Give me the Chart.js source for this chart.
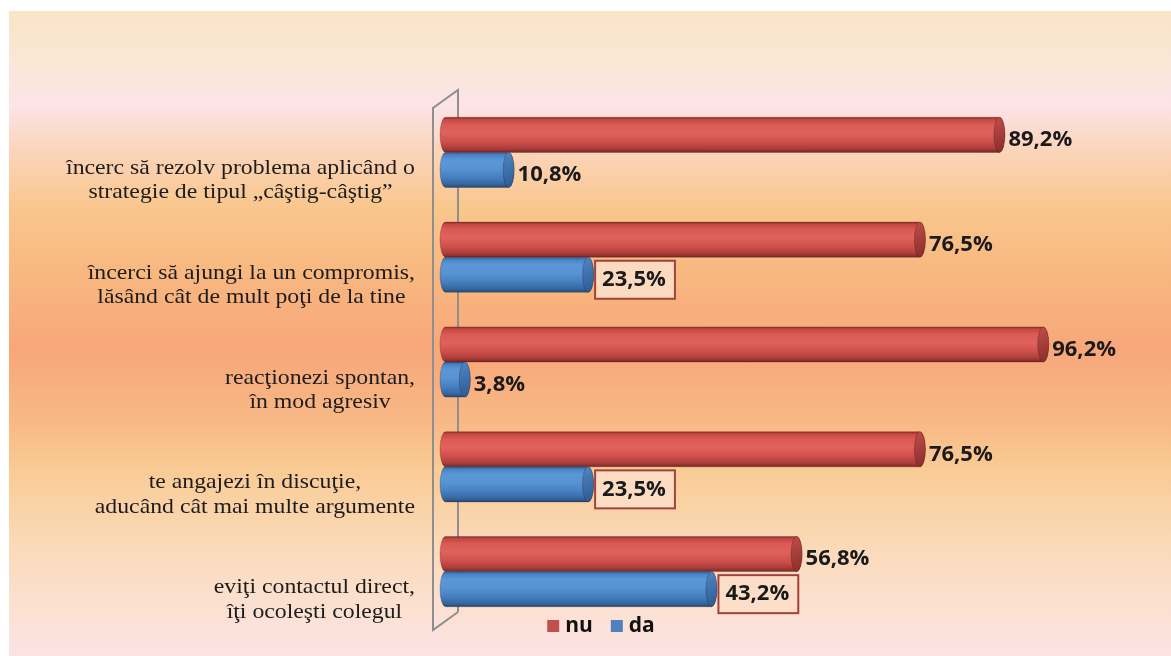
<!DOCTYPE html>
<html>
<head>
<meta charset="utf-8">
<script src="https://cdn.jsdelivr.net/npm/chart.js@4.4.1/dist/chart.umd.min.js"></script>
<style>
  html, body { margin: 0; padding: 0; background: #ffffff; }
  #wrap { position: absolute; left: 0; top: 0; width: 1171px; height: 656px; }
</style>
</head>
<body>
<div id="wrap"><canvas id="c" width="1171" height="656"></canvas></div>
<script>
// ---- data ----
const categories = [
  ['încerc să rezolv problema aplicând o', 'strategie de tipul „câştig-câştig”'],
  ['încerci să ajungi la un compromis,', 'lăsând cât de mult poţi de la tine'],
  ['reacţionezi spontan,', 'în mod agresiv'],
  ['te angajezi în discuţie,', 'aducând cât mai multe argumente'],
  ['eviţi contactul direct,', 'îţi ocoleşti colegul']
];
const seriesNames = ['nu', 'da'];
const nuValues = [89.2, 76.5, 96.2, 76.5, 56.8];
const daValues = [10.8, 23.5, 3.8, 23.5, 43.2];
const daBoxed = [false, true, false, true, true];
const nuBoxed = [false, false, false, false, false];

// ---- styles ----
const palettes = [
  { base: '#c0504d',
    body: [[0,'#8e2e2b'],[0.07,'#c64944'],[0.22,'#db5a55'],[0.45,'#e0625d'],[0.7,'#cf504b'],[0.9,'#a93c39'],[1,'#782624']],
    cap: ['#c14d49', '#8a2d2b'] },
  { base: '#4f81bd',
    body: [[0,'#2a5a92'],[0.07,'#4883c5'],[0.22,'#5b97d7'],[0.45,'#5893d2'],[0.7,'#4680c2'],[0.9,'#35679f'],[1,'#244a78']],
    cap: ['#4f86c4', '#2c5b92'] }
];
const boxedFlags = [nuBoxed, daBoxed];
const fmt = v => v.toFixed(1).replace('.', ',') + '%';

function drawCylinder(ctx, x0, x1, yc, h, pal) {
  const ry = h / 2, rx = 5.5, top = yc - ry, bot = yc + ry;
  if (x1 < x0) x1 = x0;
  const g = ctx.createLinearGradient(0, top, 0, bot);
  pal.body.forEach(s => g.addColorStop(s[0], s[1]));
  ctx.beginPath();
  ctx.moveTo(x0, top);
  ctx.ellipse(x0, yc, rx, ry, 0, -Math.PI / 2, Math.PI / 2, true);
  ctx.lineTo(x1, bot);
  ctx.ellipse(x1, yc, rx, ry, 0, Math.PI / 2, -Math.PI / 2, true);
  ctx.closePath();
  ctx.fillStyle = g;
  ctx.fill();
  ctx.strokeStyle = 'rgba(60,20,20,0.25)';
  ctx.lineWidth = 1;
  ctx.stroke();
  const gc = ctx.createLinearGradient(x1 - rx, top, x1 + rx, bot);
  gc.addColorStop(0, pal.cap[0]);
  gc.addColorStop(1, pal.cap[1]);
  ctx.beginPath();
  ctx.ellipse(x1, yc, rx, ry, 0, 0, Math.PI * 2);
  ctx.fillStyle = gc;
  ctx.fill();
  ctx.strokeStyle = 'rgba(40,10,10,0.25)';
  ctx.stroke();
}

const bgPlugin = {
  id: 'bg',
  beforeDraw(chart) {
    const ctx = chart.ctx;
    ctx.save();
    ctx.fillStyle = '#ffffff';
    ctx.fillRect(0, 0, chart.width, chart.height);
    const g = ctx.createLinearGradient(0, 11, 0, 656);
    const stops = [
      [11,'#f9e5c6'],[60,'#fbe6d6'],[105,'#fde3e8'],[150,'#fbd5bb'],[210,'#f9c68b'],
      [280,'#f8b67f'],[350,'#f7a77a'],[420,'#f8b886'],[470,'#f9cb95'],[540,'#fad9b6'],
      [600,'#fbe0cf'],[656,'#fce3e3']
    ];
    stops.forEach(s => g.addColorStop((s[0] - 11) / 645, s[1]));
    ctx.fillStyle = g;
    ctx.fillRect(9, 11, chart.width - 9, chart.height - 11);
    ctx.restore();
  }
};

const barsPlugin = {
  id: 'cyl',
  beforeDatasetsDraw(chart) {
    const ctx = chart.ctx, a = chart.chartArea;
    ctx.save();
    // 3D wall outline
    const L = a.left - 11, R = a.left + 14;
    ctx.strokeStyle = '#8f8f8f';
    ctx.lineWidth = 2;
    ctx.beginPath();
    ctx.moveTo(R, a.bottom - 12);
    ctx.lineTo(R, a.top - 10);
    ctx.lineTo(L, a.top + 8);
    ctx.lineTo(L, a.bottom + 6);
    ctx.lineTo(R, a.bottom - 12);
    ctx.stroke();
    chart.data.datasets.forEach((ds, d) => {
      const meta = chart.getDatasetMeta(d);
      meta.data.forEach(el => {
        drawCylinder(ctx, el.base + 1.5, el.x - 3, el.y, el.height, palettes[d]);
      });
    });
    ctx.restore();
    return false;
  },
  afterDraw(chart) {
    const ctx = chart.ctx, a = chart.chartArea;
    ctx.save();
    // value labels
    ctx.font = 'bold 22px "Open Sans"';
    ctx.textBaseline = 'middle';
    ctx.textAlign = 'left';
    chart.data.datasets.forEach((ds, d) => {
      const meta = chart.getDatasetMeta(d);
      meta.data.forEach((el, i) => {
        const txt = fmt(ds.data[i]);
        const y = el.y + 5;
        if (boxedFlags[d][i]) {
          const w = ctx.measureText(txt).width;
          const bx = el.x + 4, bw = w + 16, bh = 38;
          ctx.fillStyle = 'rgba(252,222,200,0.9)';
          ctx.fillRect(bx, y - bh / 2, bw, bh);
          ctx.strokeStyle = '#a0433a';
          ctx.lineWidth = 2;
          ctx.strokeRect(bx, y - bh / 2, bw, bh);
          ctx.fillStyle = '#1a1a1a';
          ctx.fillText(txt, bx + 7, y);
        } else {
          ctx.fillStyle = '#1a1a1a';
          ctx.fillText(txt, el.x + 6, y);
        }
      });
    });
    // category labels
    const yScale = chart.scales.y;
    const sx = 1.08, lh = 24.5, rightEdge = a.left - 29;
    ctx.font = '22px "Liberation Serif"';
    ctx.textBaseline = 'alphabetic';
    ctx.textAlign = 'center';
    ctx.fillStyle = '#1c1c1c';
    categories.forEach((lines, i) => {
      const yc = yScale.getPixelForValue(i);
      const maxW = Math.max(...lines.map(l => ctx.measureText(l).width)) * sx;
      const cx = rightEdge - maxW / 2;
      lines.forEach((l, k) => {
        ctx.save();
        ctx.translate(cx, yc + 21.5 + k * lh);
        ctx.scale(sx, 1);
        ctx.fillText(l, 0, 0);
        ctx.restore();
      });
    });
    // legend
    ctx.font = 'bold 21px "Open Sans"';
    ctx.textAlign = 'left';
    ctx.textBaseline = 'middle';
    const box = 12, gap = 6, itemGap = 18;
    const widths = chart.data.datasets.map(ds => box + gap + ctx.measureText(ds.label).width);
    const total = widths.reduce((s, w) => s + w, 0) + itemGap * (widths.length - 1);
    let lx = 601 - total / 2;
    const ly = a.bottom + 2;
    chart.data.datasets.forEach((ds, d) => {
      ctx.fillStyle = palettes[d].base;
      ctx.fillRect(lx, ly - box / 2, box, box);
      ctx.fillStyle = '#111111';
      ctx.fillText(ds.label, lx + box + gap, ly);
      lx += widths[d] + itemGap;
    });
    ctx.restore();
  }
};

new Chart(document.getElementById('c'), {
  type: 'bar',
  data: {
    labels: categories,
    datasets: [
      { label: seriesNames[0], data: nuValues, backgroundColor: palettes[0].base },
      { label: seriesNames[1], data: daValues, backgroundColor: palettes[1].base }
    ]
  },
  options: {
    indexAxis: 'y',
    responsive: false,
    animation: false,
    devicePixelRatio: 1,
    barPercentage: 1,
    categoryPercentage: 0.67,
    layout: { padding: { left: 444, right: 101, top: 100, bottom: 32 } },
    scales: {
      x: { type: 'linear', min: 0, max: 100, display: false },
      y: { display: false }
    },
    plugins: { legend: { display: false }, tooltip: { enabled: false } }
  },
  plugins: [bgPlugin, barsPlugin]
});
</script>
</body>
</html>
